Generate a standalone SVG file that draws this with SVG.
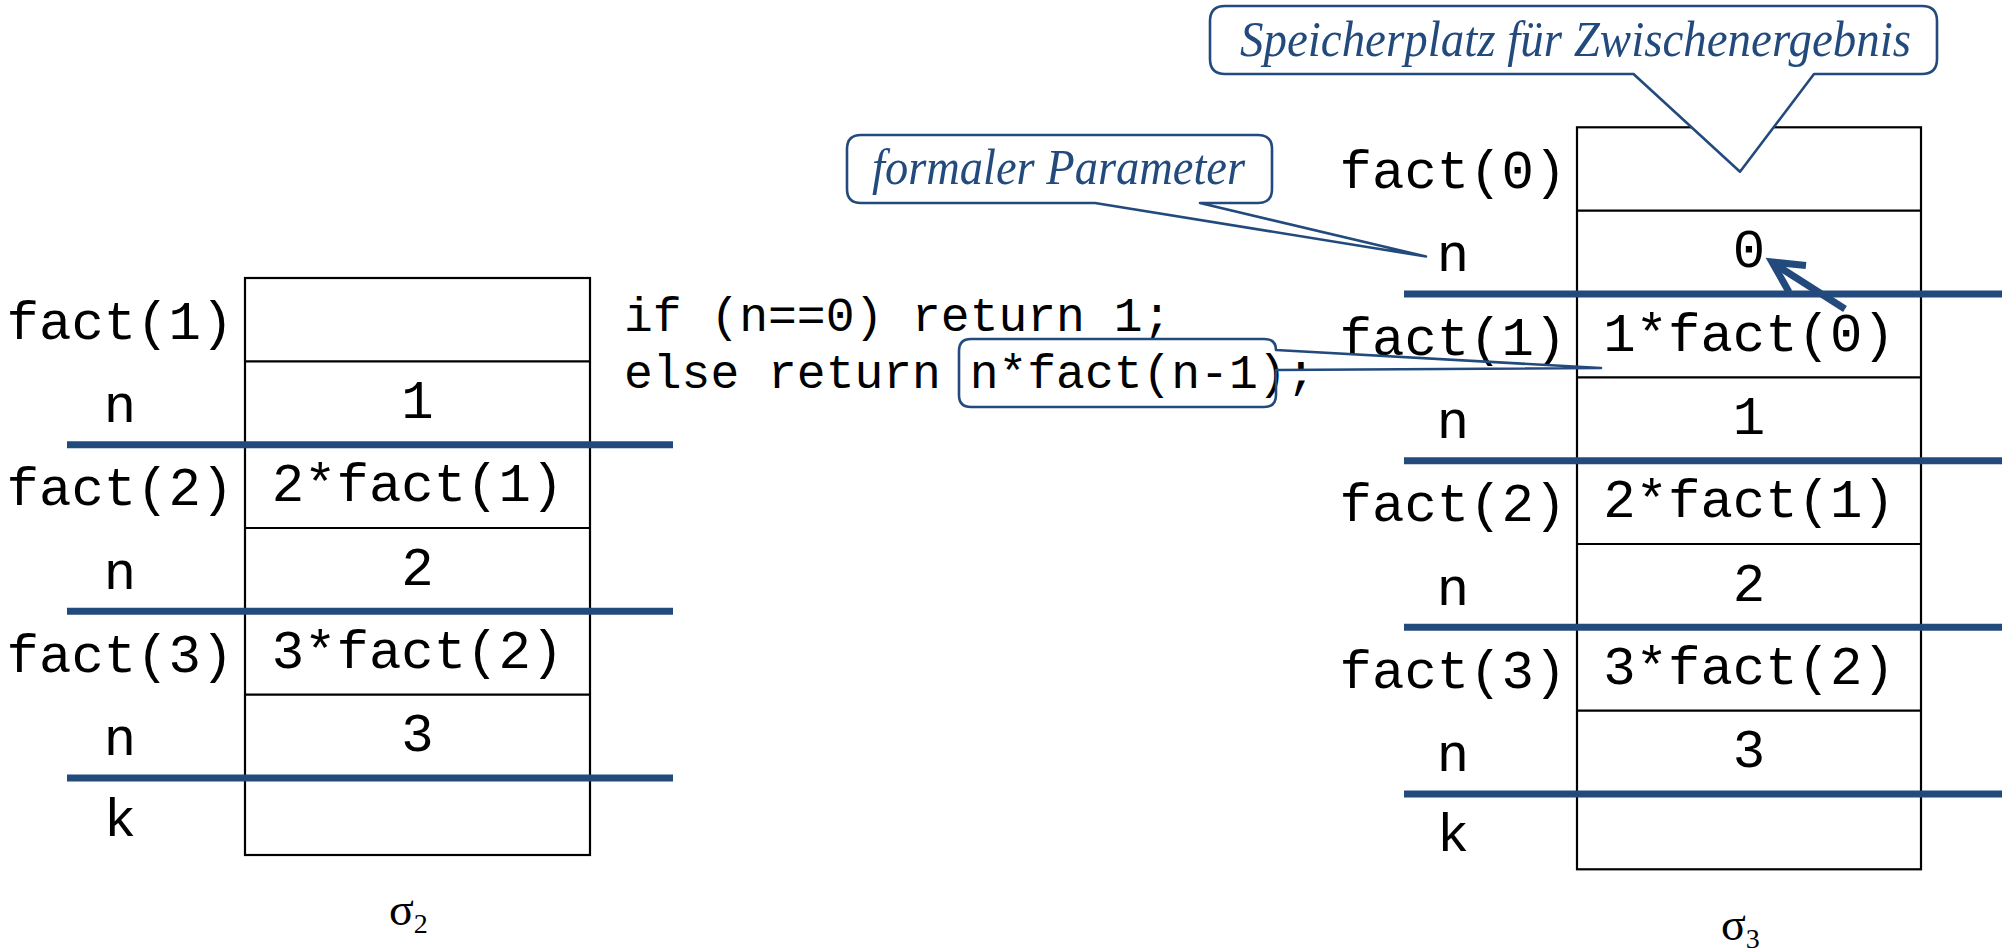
<svg xmlns="http://www.w3.org/2000/svg" width="2002" height="951" viewBox="0 0 2002 951">
  <style>
    .cell { fill: #ffffff; stroke: #000000; stroke-width: 2.2; }
    .sep { stroke: #000000; stroke-width: 2.2; }
    .frame { stroke: #234a7d; stroke-width: 7; }
    .mono { font-family: "Liberation Mono", "Courier New", monospace; font-size: 54px; fill: #000000; }
    .lbl { text-anchor: middle; }
    .code { font-family: "Liberation Mono", "Courier New", monospace; font-size: 48px; fill: #000000; }
    .sigma { font-family: "Liberation Serif", "Times New Roman", serif; font-size: 46px; fill: #000000; }
    .sub { font-size: 28px; }
    .note { fill: #ffffff; stroke: #234a7d; stroke-width: 2.6; stroke-linejoin: round; }
    .noteText { font-family: "Liberation Serif", "Times New Roman", serif; font-style: italic; font-size: 50px; fill: #234a7d; }
    .arrow { fill: none; stroke: #234a7d; stroke-width: 7; stroke-linecap: butt; stroke-linejoin: miter; }
  </style>

  <!-- stack sigma 2 -->
  <g id="stack-sigma2">
    <rect class="cell" x="245" y="278" width="345" height="577"/>
    <line class="sep" x1="245" y1="361.3" x2="590" y2="361.3"/>
    <line class="sep" x1="245" y1="528" x2="590" y2="528"/>
    <line class="sep" x1="245" y1="694.7" x2="590" y2="694.7"/>
    <line class="frame" x1="67" y1="444.7" x2="673" y2="444.7"/>
    <line class="frame" x1="67" y1="611.3" x2="673" y2="611.3"/>
    <line class="frame" x1="67" y1="778" x2="673" y2="778"/>
    <text class="mono lbl" x="120" y="338.7">fact(1)</text>
    <text class="mono lbl" x="120" y="422">n</text>
    <text class="mono lbl" x="120" y="505.3">fact(2)</text>
    <text class="mono lbl" x="120" y="588.7">n</text>
    <text class="mono lbl" x="120" y="672">fact(3)</text>
    <text class="mono lbl" x="120" y="755.3">n</text>
    <text class="mono lbl" x="120" y="835.5">k</text>
    <text class="mono lbl" x="417.5" y="418">1</text>
    <text class="mono lbl" x="417.5" y="501.3">2*fact(1)</text>
    <text class="mono lbl" x="417.5" y="584.7">2</text>
    <text class="mono lbl" x="417.5" y="668">3*fact(2)</text>
    <text class="mono lbl" x="417.5" y="751.3">3</text>
    <text class="sigma" x="389" y="925">σ<tspan class="sub" dy="8">2</tspan></text>
  </g>

  <!-- method body -->
  <g id="code">
    <text class="code" x="624" y="330.7">if (n==0) return 1;</text>
    <text class="code" x="624" y="388">else return n*fact(n-1);</text>
  </g>

  <!-- stack sigma 3 -->
  <g id="stack-sigma3">
    <rect class="cell" x="1577" y="127.3" width="344" height="742"/>
    <line class="sep" x1="1577" y1="210.7" x2="1921" y2="210.7"/>
    <line class="sep" x1="1577" y1="377.3" x2="1921" y2="377.3"/>
    <line class="sep" x1="1577" y1="544" x2="1921" y2="544"/>
    <line class="sep" x1="1577" y1="710.7" x2="1921" y2="710.7"/>
    <line class="frame" x1="1404" y1="294" x2="2002" y2="294"/>
    <line class="frame" x1="1404" y1="460.7" x2="2002" y2="460.7"/>
    <line class="frame" x1="1404" y1="627.3" x2="2002" y2="627.3"/>
    <line class="frame" x1="1404" y1="794" x2="2002" y2="794"/>
    <text class="mono lbl" x="1453" y="188">fact(0)</text>
    <text class="mono lbl" x="1453" y="271.3">n</text>
    <text class="mono lbl" x="1453" y="354.7">fact(1)</text>
    <text class="mono lbl" x="1453" y="438">n</text>
    <text class="mono lbl" x="1453" y="521.3">fact(2)</text>
    <text class="mono lbl" x="1453" y="604.7">n</text>
    <text class="mono lbl" x="1453" y="688">fact(3)</text>
    <text class="mono lbl" x="1453" y="771.3">n</text>
    <text class="mono lbl" x="1453" y="850.7">k</text>
    <text class="mono lbl" x="1749" y="267.3">0</text>
    <text class="mono lbl" x="1749" y="350.7">1*fact(0)</text>
    <text class="mono lbl" x="1749" y="434">1</text>
    <text class="mono lbl" x="1749" y="517.3">2*fact(1)</text>
    <text class="mono lbl" x="1749" y="600.7">2</text>
    <text class="mono lbl" x="1749" y="684">3*fact(2)</text>
    <text class="mono lbl" x="1749" y="767.3">3</text>
    <text class="sigma" x="1721" y="940">σ<tspan class="sub" dy="8">3</tspan></text>
  </g>

  <!-- connectors: return value arrow -->
  <g id="connectors">
    <line class="arrow" x1="1845" y1="309" x2="1776" y2="265"/>
    <polyline class="arrow" points="1806,265.5 1772,262 1789,292"/>
  </g>

  <!-- callout: expression -->
  <g id="callout-expression">
    <path class="note" style="fill:none" d="M971,339 H1264 Q1276,339 1276,350 L1601,368 L1276,370 V395 Q1276,407 1264,407 H971 Q959,407 959,395 V351 Q959,339 971,339 Z"/>
  </g>

  <!-- callout: formal parameter -->
  <g id="callout-parameter">
    <path class="note" d="M861,135 H1258 Q1272,135 1272,149 V189 Q1272,203 1258,203 H1200 L1426,256.5 L1095,203 H861 Q847,203 847,189 V149 Q847,135 861,135 Z"/>
    <text class="noteText" x="872" y="184" textLength="373" lengthAdjust="spacingAndGlyphs">formaler Parameter</text>
  </g>

  <!-- callout: intermediate result -->
  <g id="callout-result">
    <path class="note" d="M1225,6 H1922 Q1937,6 1937,21 V59 Q1937,74 1922,74 H1814 L1740,171.7 L1633.5,74 H1225 Q1210,74 1210,59 V21 Q1210,6 1225,6 Z"/>
    <text class="noteText" x="1240" y="56" textLength="671" lengthAdjust="spacingAndGlyphs">Speicherplatz für Zwischenergebnis</text>
  </g>
</svg>
